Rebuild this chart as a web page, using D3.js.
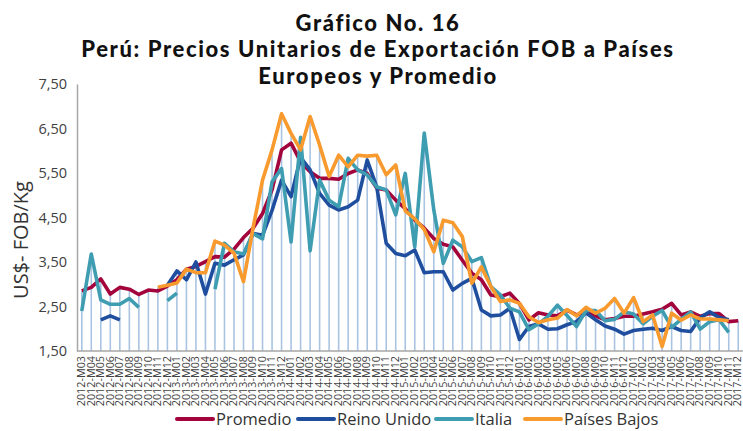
<!DOCTYPE html>
<html lang="es">
<head>
    <meta charset="UTF-8">
    <title>Gráfico No. 16</title>
    <script type="text/javascript" src="https://d3js.org/d3.v7.min.js"></script>
    <style>
        body {
            margin: 0;
            background: #fff;
        }
        svg {
            display: block;
        }
        .axios path {
            fill: none;
            stroke: #a6a6a6;
            stroke-width: 1.5;
        }
        .axios line {
            display: none;
        }
        .axios text {
            fill: #404040;
        }
    </style>
</head>
<body>
    <script>
        /* ====== datos ====== */
        let meses = [
            "2012-M03", "2012-M04", "2012-M05", "2012-M06", "2012-M07", "2012-M08", "2012-M09", "2012-M10", "2012-M11", "2012-M12",
            "2013-M01", "2013-M02", "2013-M03", "2013-M04", "2013-M05", "2013-M06", "2013-M07", "2013-M08", "2013-M09", "2013-M10", "2013-M11", "2013-M12",
            "2014-M01", "2014-M02", "2014-M03", "2014-M04", "2014-M05", "2014-M06", "2014-M07", "2014-M08", "2014-M09", "2014-M10", "2014-M11", "2014-M12",
            "2015-M01", "2015-M02", "2015-M03", "2015-M04", "2015-M05", "2015-M06", "2015-M07", "2015-M08", "2015-M09", "2015-M10", "2015-M11", "2015-M12",
            "2016-M01", "2016-M02", "2016-M03", "2016-M04", "2016-M05", "2016-M06", "2016-M07", "2016-M08", "2016-M09", "2016-M10", "2016-M11", "2016-M12",
            "2017-M01", "2017-M02", "2017-M03", "2017-M04", "2017-M05", "2017-M06", "2017-M07", "2017-M08", "2017-M09", "2017-M10", "2017-M11", "2017-M12"
        ];

        let promedio = [
            2.85, 2.93, 3.12, 2.78, 2.93, 2.89, 2.77, 2.87, 2.85, 2.96,
            3.10, 3.34, 3.40, 3.51, 3.62, 3.61, 3.79, 4.05, 4.26, 4.59, 5.12, 6.02,
            6.17, 5.75, 5.53, 5.38, 5.38, 5.36, 5.49, 5.57, 5.49, 5.16, 5.12, 4.89,
            4.70, 4.44, 4.26, 4.03, 3.90, 3.84, 3.54, 3.25, 3.10, 2.76, 2.72, 2.80,
            2.57, 2.20, 2.36, 2.31, 2.29, 2.42, 2.31, 2.38, 2.29, 2.20, 2.23, 2.28,
            2.28, 2.33, 2.38, 2.44, 2.57, 2.31, 2.38, 2.28, 2.34, 2.34, 2.16, 2.18
        ];

        let reinoUnido = [
            null, null, 2.20, 2.29, 2.20, null, null, null, null, 2.98,
            3.30, 3.10, 3.50, 2.78, 3.47, 3.43, 3.55, 3.66, 4.14, 4.10, 4.66, 5.34,
            4.97, 5.85, 5.57, 5.04, 4.78, 4.67, 4.74, 4.89, 5.79, 5.19, 3.92, 3.69,
            3.64, 3.77, 3.26, 3.28, 3.28, 2.87, 3.02, 3.13, 2.42, 2.29, 2.31, 2.46,
            1.76, 2.05, 2.11, 1.99, 2.00, 2.09, 2.16, 2.36, 2.20, 2.06, 1.99, 1.88,
            1.96, 1.99, 2.01, 1.96, 2.05, 1.96, 1.94, 2.25, 2.38, 2.25, 2.20, null
        ];

        let italia = [
            2.40, 3.68, 2.65, 2.55, 2.55, 2.68, 2.48, null, null, 2.63,
            2.80, null, null, null, 2.89, 3.92, 3.73, 3.68, 4.14, 4.02, 5.30, 5.60,
            3.95, 6.30, 3.75, 5.34, 4.89, 4.74, 5.83, 5.57, 5.46, 5.19, 5.12, 4.56,
            5.49, 3.84, 6.40, 4.67, 3.47, 3.99, 3.84, 3.51, 3.60, 2.95, 2.76, 2.46,
            2.38, 1.98, 2.11, 2.28, 2.53, 2.30, 2.05, 2.41, 2.41, 2.18, 2.21, 2.38,
            2.33, 2.11, 2.28, 2.41, 2.03, 2.21, 2.38, 1.99, 2.16, 2.20, 1.92, null
        ];

        let paisesBajos = [
            null, null, null, null, null, null, null, null, 2.93, 2.98,
            3.03, 3.34, 3.26, 3.26, 3.97, 3.88, 3.70, 3.06, 4.26, 5.34, 6.02, 6.83,
            6.39, 6.02, 6.77, 6.13, 5.42, 5.90, 5.64, 5.90, 5.88, 5.90, 5.46, 5.68,
            4.65, 4.47, 4.23, 3.73, 4.44, 4.38, 4.07, 3.02, 3.39, 2.95, 2.61, 2.65,
            2.57, 2.27, 2.14, 2.20, 2.24, 2.43, 2.29, 2.48, 2.35, 2.46, 2.68, 2.35,
            2.70, 2.16, 2.31, 1.60, 2.35, 2.19, 2.31, 2.22, 2.22, 2.20, 2.18, null
        ];

        let yTicks = [1.5, 2.5, 3.5, 4.5, 5.5, 6.5, 7.5];

        let series = [
            { nombre: "Promedio", valores: promedio, color: "#a3043c" },
            { nombre: "Reino Unido", valores: reinoUnido, color: "#1f4e9f" },
            { nombre: "Italia", valores: italia, color: "#3f9db2" },
            { nombre: "Países Bajos", valores: paisesBajos, color: "#f99a2f" }
        ];

        /* ====== lienzo ====== */
        let width = 743, height = 431;
        let plotLeft = 77, plotRight = 743, plotTop = 84, plotBottom = 351;

        let svg = d3.select("body")
                    .append("svg")
                    .attr("width", width)
                    .attr("height", height);

        /* titulo */
        let titulo = ["Gráfico No. 16", "Perú: Precios Unitarios de Exportación FOB a Países", "Europeos y Promedio"];
        svg.append("g")
           .selectAll("text")
           .data(titulo)
           .enter()
           .append("text")
           .attr("x", 378)
           .attr("y", (d, i) => 30.5 + i * 26.5)
           .attr("text-anchor", "middle")
           .style("font-family", "Lato, sans-serif")
           .style("font-weight", 900)
           .style("font-size", "22px")
           .style("letter-spacing", "1.6px")
           .attr("fill", "#111")
           .text(d => d);

        /* escalas */
        let x = d3.scalePoint()
                  .domain(meses)
                  .range([plotLeft, plotRight])
                  .padding(0.5);

        let y = d3.scaleLinear()
                  .domain([1.5, 7.5])
                  .range([plotBottom, plotTop]);

        /* lineas de caida desde el valor mas alto de cada mes */
        let maximos = meses.map((m, i) => d3.max(series, s => s.valores[i]));
        svg.append("g")
           .selectAll("line")
           .data(meses)
           .enter()
           .append("line")
           .attr("x1", d => x(d))
           .attr("x2", d => x(d))
           .attr("y1", y(1.5))
           .attr("y2", (d, i) => y(maximos[i]))
           .attr("stroke", "#a9c4e2")
           .attr("stroke-width", 1.6);

        /* ejes */
        let coma = d3.formatLocale({ decimal: ",", thousands: ".", grouping: [3], currency: ["", ""] });

        svg.append("g")
           .attr("class", "axios")
           .attr("transform", `translate(${plotLeft}, 0)`)
           .call(d3.axisLeft(y).tickValues(yTicks).tickFormat(coma.format(".2f")).tickSize(0).tickPadding(10))
           .call(g => g.selectAll("text")
                       .style("font-family", "'Open Sans', sans-serif")
                       .style("font-size", "14.5px"));

        svg.append("g")
           .attr("class", "axios")
           .attr("transform", `translate(0, ${plotBottom})`)
           .call(d3.axisBottom(x).tickSize(0).tickPadding(0).tickSizeOuter(0))
           .call(g => g.select(".domain").attr("d", `M${plotLeft},0H${plotRight}`))
           .call(g => g.selectAll("text")
                       .style("font-family", "'Open Sans', sans-serif")
                       .style("font-size", "10.8px")
                       .attr("text-anchor", "end")
                       .attr("dy", "0.3em")
                       .attr("transform", "translate(-0.5, 5) rotate(-90)")
                       .attr("x", 0)
                       .attr("y", 0));

        /* titulo eje Y */
        svg.append("text")
           .attr("transform", "translate(28, 240) rotate(-90)")
           .attr("text-anchor", "middle")
           .style("font-family", "'Open Sans', sans-serif")
           .style("font-size", "20px")
           .attr("fill", "#333")
           .text("US$- FOB/Kg");

        /* series */
        let linea = d3.line()
                      .defined(d => d.v != null)
                      .x(d => x(d.m))
                      .y(d => y(d.v));

        svg.append("g")
           .selectAll("path")
           .data(series)
           .enter()
           .append("path")
           .attr("d", s => linea(meses.map((m, i) => ({ m: m, v: s.valores[i] }))))
           .attr("fill", "none")
           .attr("stroke", s => s.color)
           .attr("stroke-width", 3.6)
           .attr("stroke-linejoin", "round");

        /* leyenda */
        let leyendaX = [177, 298, 436, 525];
        let leyenda = svg.append("g")
                         .selectAll("g")
                         .data(series)
                         .enter()
                         .append("g")
                         .attr("transform", (d, i) => `translate(${leyendaX[i]}, 419)`);

        leyenda.append("line")
               .attr("x1", 0)
               .attr("x2", 36)
               .attr("stroke", d => d.color)
               .attr("stroke-width", 4)
               .attr("stroke-linecap", "round");

        leyenda.append("text")
               .attr("x", 39)
               .attr("dy", "0.35em")
               .style("font-family", "'Open Sans', sans-serif")
               .style("font-size", "16.5px")
               .attr("fill", "#333")
               .text(d => d.nombre);
    </script>
</body>
</html>
